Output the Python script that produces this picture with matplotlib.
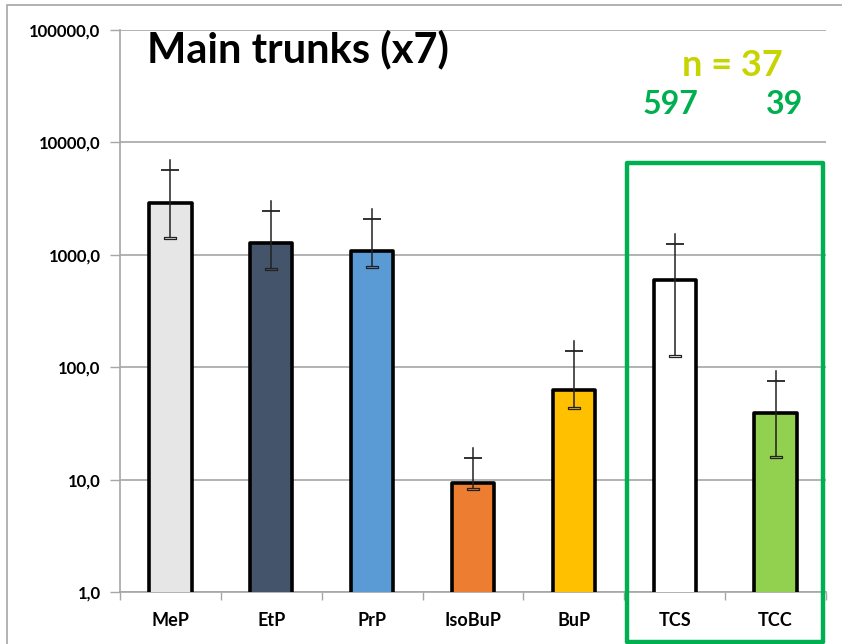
import matplotlib.pyplot as plt
import matplotlib.patches as mpatches
import numpy as np

# data
categories = ['MeP', 'EtP', 'PrP', 'IsoBuP', 'BuP', 'TCS', 'TCC']
means = [2900, 1270, 1080, 9.3, 63, 597, 39]
err_upper = [5650, 2470, 2070, 15.5, 140, 1250, 76]
err_lower = [1410, 750, 783, 8.35, 43.4, 126, 15.9]
bar_colors = ['#E7E6E6', '#44546A', '#5B9BD5', '#ED7D31', '#FFC000', '#FFFFFF', '#92D050']
yticks = [1, 10, 100, 1000, 10000, 100000]
ytick_labels = ['1,0', '10,0', '100,0', '1000,0', '10000,0', '100000,0']
title = 'Main trunks (x7)'
n_label = 'n = 37'
group_counts = ['597', '39']

W, H = 842, 644
plt.rcParams['font.family'] = ['Lato', 'DejaVu Sans']
fig = plt.figure(figsize=(W / 100, H / 100), dpi=100)

def fx(px):
    return px / W

def fy(py):
    return 1 - py / H

ax = fig.add_axes([fx(120), fy(592.3), fx(826) - fx(120), fy(29.8) - fy(592.3)])
ax.set_yscale('log')
ax.set_ylim(1, 100000)
ax.set_xlim(-0.5, len(categories) - 0.5)

x = np.arange(len(categories))
ax.bar(x, means, width=0.42, bottom=0, color=bar_colors, edgecolor='black',
       linewidth=2.6, joinstyle='round', zorder=3)

# error bars: stem runs a bit past the upper cap, lower cap is a small box
ext = 10 ** (10 / 112.5)
for xi, lo, up, c in zip(x, err_lower, err_upper, bar_colors):
    ax.plot([xi, xi], [lo, up * ext], color='#222222', lw=1.1, zorder=4)
    ax.plot(xi, up, marker='_', ms=13, mew=1.3, color='#222222', zorder=4)
    ax.plot(xi, lo, marker=[(-1, -0.22), (1, -0.22), (1, 0.22), (-1, 0.22), (-1, -0.22)],
            ms=9, mfc=c, mec='#222222', mew=0.9, ls='none', zorder=5)

ax.set_yticks(yticks)
ax.set_yticklabels(ytick_labels, fontsize=12, fontweight='bold')
ax.yaxis.set_minor_locator(plt.NullLocator())
ax.tick_params(axis='y', length=7, width=1, color='#A6A6A6', pad=7)
ax.grid(axis='y', color='#A6A6A6', lw=1.2, zorder=0)

ax.set_xticks(np.arange(len(categories) + 1) - 0.5)
ax.set_xticklabels([])
ax.tick_params(axis='x', length=6, width=1, color='#A6A6A6')
for xi, name in zip(x, categories):
    ax.text(xi, -0.05, name, transform=ax.get_xaxis_transform(), ha='center',
            va='center', fontsize=13, fontweight='bold')

for s in ['top', 'right']:
    ax.spines[s].set_visible(False)
for s in ['left', 'bottom']:
    ax.spines[s].set_color('#A6A6A6')
    ax.spines[s].set_linewidth(1.2)

# texts
fig.text(fx(147), fy(49), title, fontsize=30, fontweight='bold', ha='left', va='center')
fig.text(fx(732), fy(65), n_label, fontsize=26, fontweight='bold', color='#C8D400',
         ha='center', va='center')
fig.text(fx(670), fy(105), group_counts[0], fontsize=23, fontweight='bold', color='#00B050',
         ha='center', va='center')
fig.text(fx(785), fy(105), group_counts[1], fontsize=23, fontweight='bold', color='#00B050',
         ha='center', va='center')

# green highlight box and the outer chart border
fig.patches.append(mpatches.Rectangle((fx(626.7), fy(641.5)), fx(823) - fx(626.7), fy(163.3) - fy(641.5),
                                      transform=fig.transFigure, fill=False, edgecolor='#00B050',
                                      lw=3.2, joinstyle='round', zorder=10))
fig.patches.append(mpatches.Rectangle((fx(7), fy(700)), fx(900), fy(5) - fy(700),
                                      transform=fig.transFigure, fill=False, edgecolor='#A6A6A6',
                                      lw=1.2, zorder=1))

fig.savefig('out.png', dpi=100)
